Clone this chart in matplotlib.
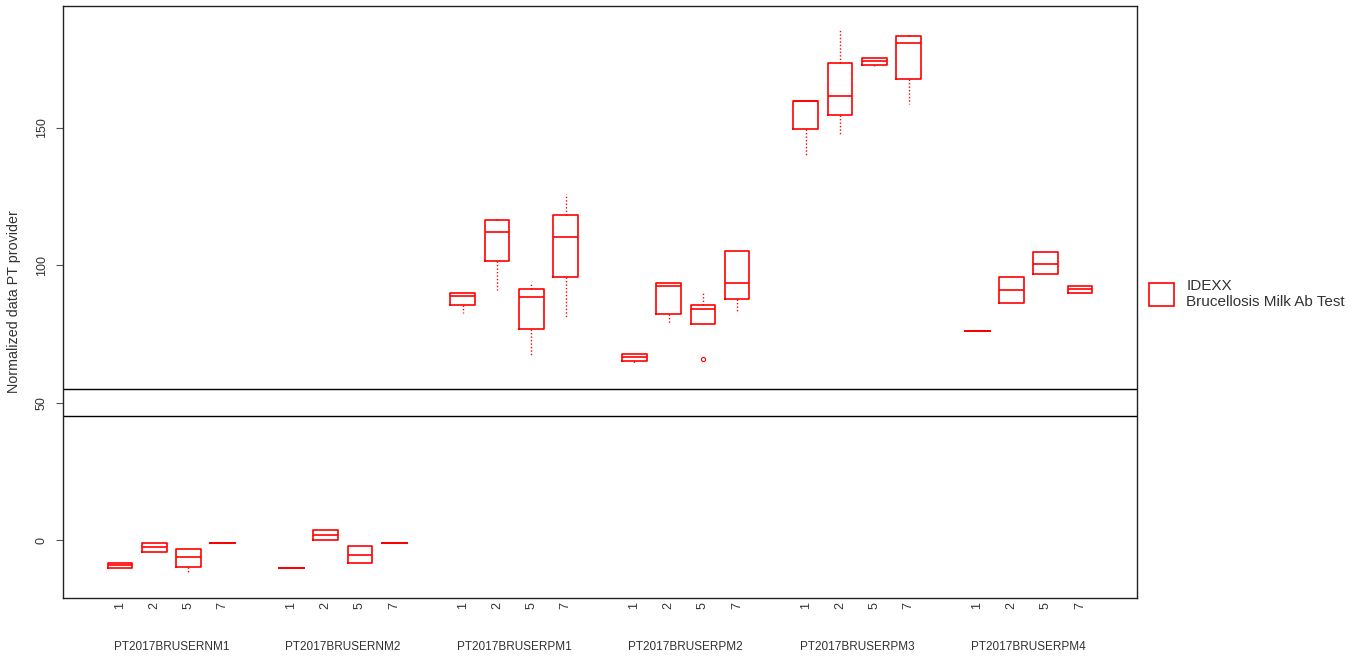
import matplotlib.pyplot as plt
from matplotlib.patches import Patch

plt.rcParams["font.family"] = ["Liberation Sans", "DejaVu Sans"]

# PT providers and the lab codes inside each group
groups = ["PT2017BRUSERNM1", "PT2017BRUSERNM2", "PT2017BRUSERPM1",
          "PT2017BRUSERPM2", "PT2017BRUSERPM3", "PT2017BRUSERPM4"]
labs = ["1", "2", "5", "7"]

# five-number summaries, one entry per (group, lab) in reading order
whisker_low = [-10.3, -4.5, -12.1, -1.1,
               -10.3, -0.1, -8.5, -1.1,
               82.7, 90.9, 67.0, 81.2,
               64.6, 78.8, 78.7, 82.7,
               140.0, 147.3, 172.5, 158.8,
               76.0, 86.4, 96.7, 90.1]
q1 = [-10.3, -4.5, -9.9, -1.1,
      -10.3, -0.1, -8.5, -1.1,
      85.7, 101.5, 76.8, 95.9,
      65.2, 82.3, 78.7, 87.9,
      149.6, 154.7, 173.0, 167.9,
      76.0, 86.4, 96.7, 90.1]
medians = [-9.2, -2.7, -6.3, -1.1,
           -10.3, 1.8, -5.3, -1.1,
           89.0, 112.1, 88.3, 110.2,
           66.8, 92.6, 84.1, 93.7,
           159.7, 161.7, 174.4, 180.8,
           76.0, 91.2, 100.6, 91.4]
q3 = [-8.4, -1.1, -3.4, -1.1,
      -10.3, 3.6, -2.2, -1.1,
      89.9, 116.5, 91.5, 118.4,
      67.6, 93.7, 85.7, 105.1,
      159.9, 173.7, 175.6, 183.5,
      76.0, 95.9, 105.0, 92.5]
whisker_high = [-8.4, -1.1, -3.4, -1.1,
                -10.3, 3.6, -2.2, -1.1,
                89.9, 117.7, 93.8, 125.8,
                67.6, 93.7, 90.2, 105.1,
                159.9, 186.2, 175.6, 184.5,
                76.0, 95.9, 105.0, 92.5]
outliers = {14: [65.8]}  # index into the lists above (PM2, lab 5)

limit_lines = [45, 55]
y_ticks = [0, 50, 100, 150]

RED = "#ff0000"
TEXT = "#333333"

# one empty slot between provider groups
positions = [1 + g * 5 + i for g in range(len(groups)) for i in range(len(labs))]

stats = []
for k in range(len(positions)):
    stats.append({
        "whislo": whisker_low[k],
        "q1": q1[k],
        "med": medians[k],
        "q3": q3[k],
        "whishi": whisker_high[k],
        "fliers": outliers.get(k, []),
    })

fig = plt.figure(figsize=(13.65, 6.61), dpi=100)
ax = fig.add_axes([0.04615, 0.0953, 0.7868, 0.8956])

ax.bxp(
    stats,
    positions=positions,
    widths=0.72,
    showcaps=False,
    boxprops=dict(color=RED, linewidth=1.2),
    medianprops=dict(color=RED, linewidth=1.2),
    whiskerprops=dict(color=RED, linewidth=1.0, linestyle=(0, (1, 1.5))),
    flierprops=dict(marker="o", markersize=3, markerfacecolor="none",
                    markeredgecolor=RED, markeredgewidth=0.8),
)

for level in limit_lines:
    ax.axhline(level, color="black", linewidth=1.0)

ax.set_xlim(-0.66, 30.66)
ax.set_ylim(-21.1, 194.4)

ax.set_xticks(positions, labels=labs * len(groups))
ax.tick_params(axis="x", length=0, pad=3, labelsize=9, labelcolor=TEXT,
               labelrotation=90)
ax.set_yticks(y_ticks)
ax.tick_params(axis="y", length=4.8, width=0.8, color="#555555", pad=6,
               labelsize=9, labelcolor=TEXT)
for label in ax.get_yticklabels():
    label.set_rotation(90)
    label.set_va("center")

for spine in ax.spines.values():
    spine.set_color("#222222")
    spine.set_linewidth(1.0)

for g, name in enumerate(groups):
    center = 1 + g * 5 + 1.5
    ax.text(center, -0.083, name, transform=ax.get_xaxis_transform(),
            ha="center", va="center", fontsize=8.5, color=TEXT)

ax.set_ylabel("Normalized data PT provider", fontsize=10.3, color=TEXT)
ax.yaxis.set_label_coords(-0.039, 0.5)

fig.legend(
    handles=[Patch(facecolor="white", edgecolor=RED, linewidth=1.2)],
    labels=["IDEXX\nBrucellosis Milk Ab Test"],
    loc="center left",
    bbox_to_anchor=(1149 / 1365, 1 - 294 / 661),
    frameon=False,
    fontsize=11,
    labelcolor=TEXT,
    handlelength=1.65,
    handleheight=1.95,
    handletextpad=0.8,
    borderpad=0,
    borderaxespad=0,
)

fig.savefig("out.png", dpi=100)
